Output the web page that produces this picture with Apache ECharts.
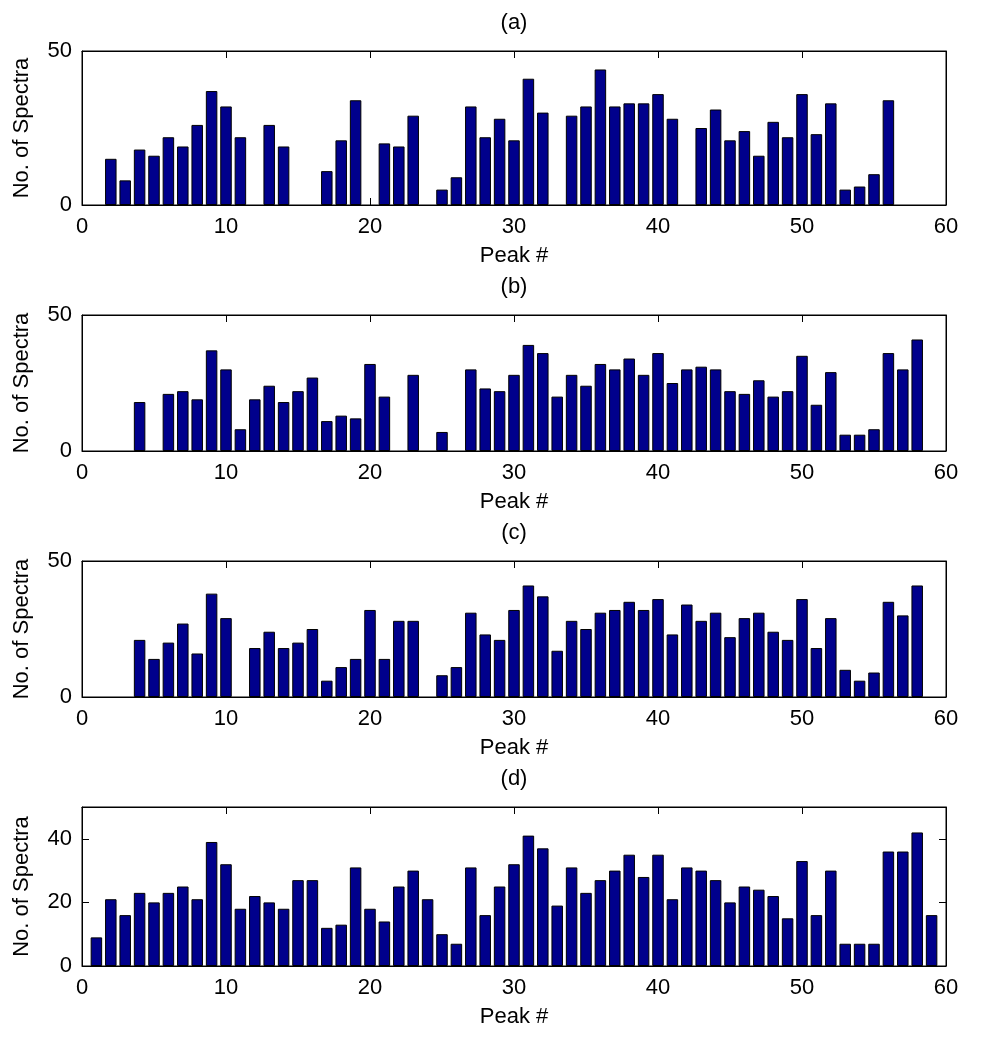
<!DOCTYPE html>
<html>
<head>
<meta charset="utf-8">
<script src="https://cdn.jsdelivr.net/npm/echarts@6/dist/echarts.min.js"></script>
<style>html,body{margin:0;padding:0;background:#fff;}#c{width:996px;height:1050px;}</style>
</head>
<body>
<div id="c"></div>
<script>
// Peak numbers (x positions)
const peaks = [1,2,3,4,5,6,7,8,9,10,11,12,13,14,15,16,17,18,19,20,21,22,23,24,25,26,27,28,29,30,
  31,32,33,34,35,36,37,38,39,40,41,42,43,44,45,46,47,48,49,50,51,52,53,54,55,56,57,58,59];
// Number of spectra per peak, panels (a)-(d)
const valuesA = [0,15,8,18,16,22,19,26,37,32,22,0,26,19,0,0,11,21,34,0,20,19,29,0,5,9,32,22,28,21,
  41,30,0,29,32,44,32,33,33,36,28,0,25,31,21,24,16,27,22,36,23,33,5,6,10,34,0,0,0];
const valuesB = [0,0,0,18,0,21,22,19,37,30,8,19,24,18,22,27,11,13,12,32,20,0,28,0,7,0,30,23,22,28,
  39,36,20,28,24,32,30,34,28,36,25,30,31,30,22,21,26,20,22,35,17,29,6,6,8,36,30,41,0];
const valuesC = [0,0,0,21,14,20,27,16,38,29,0,18,24,18,20,25,6,11,14,32,14,28,28,0,8,11,31,23,21,32,
  41,37,17,28,25,31,32,35,32,36,23,34,28,31,22,29,31,24,21,36,18,29,10,6,9,35,30,41,0];
const valuesD = [9,21,16,23,20,23,25,21,39,32,18,22,20,18,27,27,12,13,31,18,14,25,30,21,10,7,31,16,25,32,
  41,37,19,31,23,27,30,35,28,35,21,31,30,27,20,25,24,22,15,33,16,30,7,7,7,36,36,42,16];
const titles = ['(a)','(b)','(c)','(d)'];
const xTicks = [0,10,20,30,40,50,60];
const yTicksABC = [0,50];
const yTicksD = [0,20,40];

const panels = [
  {vals: valuesA, top: 51, height: 154, yInt: 50},
  {vals: valuesB, top: 315, height: 136, yInt: 50},
  {vals: valuesC, top: 561, height: 136, yInt: 50},
  {vals: valuesD, top: 807, height: 159, yInt: 20}
];
const FONT = 'Liberation Sans, Arial, sans-serif';
const FS = 22;
const chart = echarts.init(document.getElementById('c'), null, {renderer: 'canvas'});
const grid = [], xAxis = [], yAxis = [], series = [], graphic = [];
panels.forEach((p, i) => {
  grid.push({left: 82, right: 50, top: p.top, height: p.height, show: true,
    borderColor: '#000', borderWidth: 1, backgroundColor: '#fff'});
  const tickStyle = {show: true, inside: true, length: 7, lineStyle: {color: '#000', width: 1}};
  xAxis.push({type: 'value', gridIndex: i, min: 0, max: 60, interval: 10, position: 'bottom',
    name: 'Peak #', nameLocation: 'middle', nameGap: 40,
    nameTextStyle: {fontFamily: FONT, fontSize: FS, color: '#000'},
    axisLine: {show: true, onZero: false, lineStyle: {color: '#000'}},
    axisTick: tickStyle, splitLine: {show: false},
    axisLabel: {fontFamily: FONT, fontSize: FS, color: '#000', margin: 11,
      formatter: v => xTicks.includes(v) ? String(v) : ''}});
  xAxis.push({type: 'value', gridIndex: i, min: 0, max: 60, interval: 10, position: 'top',
    axisLine: {show: true, onZero: false, lineStyle: {color: '#000'}},
    axisTick: tickStyle, splitLine: {show: false}, axisLabel: {show: false}});
  const yT = p.yInt === 50 ? yTicksABC : yTicksD;
  yAxis.push({type: 'value', gridIndex: i, min: 0, max: 50, interval: p.yInt, position: 'left',
    name: 'No. of Spectra', nameLocation: 'middle', nameGap: 49, nameRotate: 90,
    nameTextStyle: {fontFamily: FONT, fontSize: FS, color: '#000'},
    axisLine: {show: true, onZero: false, lineStyle: {color: '#000'}},
    axisTick: tickStyle, splitLine: {show: false},
    axisLabel: {fontFamily: FONT, fontSize: FS, color: '#000', margin: 10,
      formatter: v => yT.includes(v) ? String(v) : ''}});
  yAxis.push({type: 'value', gridIndex: i, min: 0, max: 50, interval: p.yInt, position: 'right',
    axisLine: {show: true, onZero: false, lineStyle: {color: '#000'}},
    axisTick: tickStyle, splitLine: {show: false}, axisLabel: {show: false}});
  series.push({type: 'bar', xAxisIndex: 2 * i, yAxisIndex: 2 * i, barWidth: 11.5,
    itemStyle: {color: '#00008C', borderColor: '#000', borderWidth: 1},
    data: peaks.map((x, k) => p.vals[k] > 0 ? [x, p.vals[k]] : null).filter(d => d)});
  graphic.push({type: 'text', x: 514, y: p.top - 28,
    style: {text: titles[i], font: FS + 'px ' + FONT, fill: '#000', textAlign: 'center', textVerticalAlign: 'middle'}});
});
chart.setOption({animation: false, backgroundColor: '#fff', grid, xAxis, yAxis, series, graphic});
</script>
</body>
</html>
